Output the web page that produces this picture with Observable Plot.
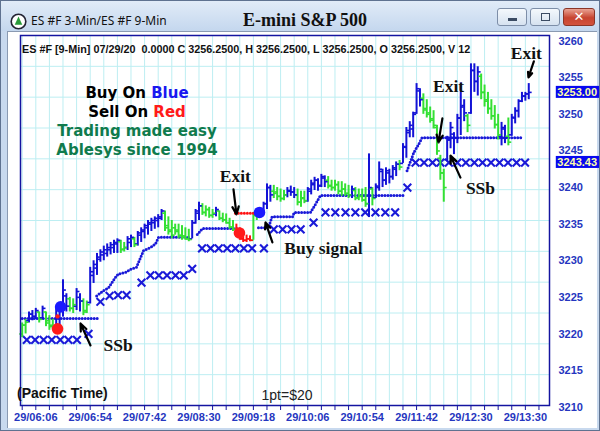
<!DOCTYPE html>
<html><head><meta charset="utf-8">
<script src="https://cdn.jsdelivr.net/npm/d3@7"></script>
<script src="https://cdn.jsdelivr.net/npm/@observablehq/plot@0.6"></script>
<style>
html,body{margin:0;padding:0;background:#fff;}
#win{position:relative;width:600px;height:431px;overflow:hidden;background:#c8d9ee;font-family:"Liberation Sans",Arial,sans-serif;}
#edge{position:absolute;left:0;top:0;width:600px;height:431px;box-sizing:border-box;border:1px solid #5f7290;pointer-events:none;z-index:9;}
#titlebar{position:absolute;left:0;top:0;width:600px;height:31px;background:linear-gradient(#e2ecf8,#c4d7ee);}
#client{position:absolute;left:7px;top:31px;width:590px;height:397px;background:#fff;border-left:1px solid #8a9ab2;border-top:1px solid #8a9ab2;box-sizing:border-box;}
#chart{position:absolute;left:0;top:0;z-index:2;}
.abs{position:absolute;white-space:nowrap;z-index:3;}
#ttlL{left:31px;top:13px;font:12px "Noto Sans","DejaVu Sans",sans-serif;line-height:16px;color:#111;}
#ttl{left:205px;width:200px;top:9px;text-align:center;font:bold 18px "Liberation Serif","Times New Roman",serif;line-height:22px;color:#111;}
.btn{position:absolute;top:8px;height:18px;border:1px solid #7d8ea8;border-radius:3px;background:linear-gradient(#f4f8fc,#d6e2f0);box-sizing:border-box;z-index:3;}
#bmin{left:497px;width:30px;}
#bmax{left:530px;width:30px;}
#bcls{left:563px;width:32px;background:linear-gradient(#e9a393,#c74430 55%,#d2523c);border-color:#8b3527;}
#hdr{left:22px;top:42.5px;font:bold 10.8px "Liberation Sans",Arial,sans-serif;line-height:13px;color:#111;}
#legend{left:37px;width:200px;top:83.7px;text-align:center;font:bold 15px "DejaVu Sans",Verdana,sans-serif;line-height:19.1px;color:#000;}
#pac{left:17px;top:384.5px;font:bold 14px "Liberation Sans",Arial,sans-serif;line-height:17px;color:#111;}
#onept{left:237px;width:100px;top:386.5px;text-align:center;font:14px "Liberation Sans",Arial,sans-serif;line-height:17px;color:#222;}
</style></head>
<body>
<div id="win">
  <div id="titlebar"></div>
  <div id="client"></div>
  <div id="chart"></div>
  <svg class="abs" style="left:10px;top:13px" width="17" height="17" viewBox="0 0 17 17">
    <circle cx="8.5" cy="8.5" r="7.3" fill="#fff" stroke="#223" stroke-width="1.6"/>
    <path d="M8.5 3.6 L12.3 11.8 L4.7 11.8 Z" fill="#2a9a3a"/>
  </svg>
  <div class="abs" id="ttlL">ES #F 3-Min/ES #F 9-Min</div>
  <div class="abs" id="ttl">E-mini S&amp;P 500</div>
  <div class="btn" id="bmin"><div style="position:absolute;left:10px;top:9px;width:9px;height:3px;background:#3b4b63"></div></div>
  <div class="btn" id="bmax"><div style="position:absolute;left:10px;top:4px;width:9px;height:8px;border:1.5px solid #3b4b63;box-sizing:border-box"></div></div>
  <div class="btn" id="bcls"><div style="position:absolute;left:0;width:30px;top:0;line-height:16px;text-align:center;color:#fff;font:bold 13px 'DejaVu Sans',sans-serif">✕</div></div>
  <div class="abs" id="hdr">ES #F [9-Min] 07/29/20&nbsp; 0.0000 C 3256.2500, H 3256.2500, L 3256.2500, O 3256.2500, V 12</div>
  <div class="abs" id="legend">Buy On <span style="color:#1818f0">Blue</span><br>Sell On <span style="color:#ff1a1a">Red</span><br><span style="color:#0f7b4d">Trading made easy</span><br><span style="color:#0f7b4d">Ablesys since 1994</span></div>
  <div class="abs" id="pac">(Pacific Time)</div>
  <div class="abs" id="onept">1pt=$20</div>
  <div id="edge"></div>
</div>
<script>
// ---- data (bar index = 3-min bar) ----
const barHigh = [3221.5,3222.0,3223.0,3223.2,3223.5,3223.0,3223.8,3223.0,3222.5,3222.0,
3223.5,3224.0,3227.4,3225.5,3225.0,3224.8,3226.2,3225.5,3224.8,3224.5,
3229.1,3230.0,3231.0,3231.5,3232.0,3232.3,3232.5,3232.8,3233.0,3232.8,
3232.5,3233.3,3233.5,3233.2,3234.0,3234.5,3235.0,3235.5,3235.8,3236.0,
3236.3,3237.0,3236.8,3236.0,3235.5,3235.0,3235.0,3234.8,3234.5,3234.3,
3235.5,3237.0,3238.0,3237.8,3237.5,3237.3,3237.0,3237.3,3236.8,3236.5,
3236.4,3235.8,3235.5,3235.0,3234.5,3234.0,3233.5,3233.4,3236.6,3237.0,
3237.0,3238.0,3240.5,3240.3,3240.3,3240.0,3239.8,3239.6,3240.0,3240.2,
3240.0,3239.8,3239.5,3239.5,3240.0,3241.0,3241.4,3241.2,3241.8,3241.6,
3241.5,3241.0,3241.0,3240.8,3240.8,3240.5,3240.3,3240.2,3240.0,3239.8,
3239.8,3240.0,3244.6,3240.0,3240.5,3243.5,3242.5,3242.7,3242.5,3243.0,
3243.5,3243.7,3246.0,3248.2,3249.0,3250.3,3254.2,3253.5,3252.8,3252.0,
3251.0,3250.5,3248.5,3244.4,3242.5,3247.0,3248.9,3247.5,3250.0,3254.3,
3252.0,3250.0,3256.9,3256.9,3256.5,3255.5,3254.0,3253.0,3252.0,3251.2,
3250.0,3248.9,3248.5,3249.5,3250.0,3250.9,3252.0,3253.0,3253.0,3254.2];
const barLow = [3219.5,3220.0,3221.5,3221.8,3222.0,3221.5,3222.0,3221.0,3220.5,3220.5,
3220.8,3221.0,3222.3,3223.0,3223.0,3222.8,3223.2,3223.0,3222.5,3222.8,
3224.1,3226.9,3228.0,3229.8,3230.0,3230.5,3230.8,3231.0,3231.0,3231.0,
3231.2,3231.4,3231.8,3231.8,3232.0,3232.5,3233.0,3233.5,3234.0,3234.3,
3234.5,3235.5,3234.0,3233.5,3233.0,3233.5,3233.0,3232.8,3232.8,3232.6,
3233.0,3235.0,3235.5,3236.2,3236.0,3235.8,3235.8,3236.0,3235.5,3235.2,
3235.0,3234.3,3234.0,3233.2,3232.8,3232.5,3232.5,3232.6,3232.8,3235.5,
3236.0,3236.5,3237.0,3238.0,3238.5,3238.2,3238.0,3238.2,3238.6,3238.8,
3238.5,3237.5,3237.3,3237.8,3238.0,3239.0,3239.6,3239.5,3240.0,3240.0,
3239.8,3239.5,3239.5,3239.0,3238.8,3238.8,3238.5,3238.5,3238.2,3238.2,
3238.0,3237.3,3235.9,3237.5,3238.5,3239.5,3240.0,3240.3,3240.5,3241.0,
3241.5,3242.3,3243.3,3244.0,3246.8,3246.8,3250.0,3251.0,3250.0,3249.5,
3248.8,3248.0,3244.4,3241.0,3238.0,3243.5,3245.3,3244.5,3246.0,3247.1,
3249.0,3247.5,3250.0,3253.0,3252.5,3252.0,3251.0,3250.0,3249.2,3248.0,
3246.5,3245.7,3246.0,3245.7,3247.0,3248.7,3249.5,3251.6,3251.8,3252.0];
const barOpen = [3220.0,3221.2,3221.8,3222.7,3222.4,3223.0,3222.2,3223.0,3221.8,3221.2,
3221.0,3222.5,3223.5,3225.2,3224.8,3223.5,3223.8,3225.0,3224.5,3223.2,
3224.3,3228.0,3229.0,3230.2,3230.8,3231.0,3231.5,3231.8,3232.3,3232.6,
3231.6,3231.8,3232.5,3233.0,3232.3,3233.5,3234.0,3234.5,3235.0,3235.2,
3235.5,3235.8,3236.5,3234.8,3234.2,3234.5,3234.2,3233.5,3233.4,3233.0,
3233.0,3235.2,3236.5,3237.5,3236.6,3237.0,3236.2,3236.4,3236.8,3235.8,
3235.6,3235.2,3234.6,3234.3,3233.6,3233.0,3232.8,3233.0,3232.8,3236.2,
3236.5,3236.8,3237.8,3240.0,3239.5,3239.4,3238.8,3238.5,3239.0,3239.5,
3239.4,3239.0,3238.0,3238.6,3238.2,3239.5,3240.4,3241.0,3240.3,3241.3,
3241.0,3240.3,3240.0,3240.4,3239.5,3239.8,3239.2,3239.0,3239.6,3238.6,
3238.8,3238.3,3237.8,3239.8,3238.6,3240.0,3242.2,3241.0,3242.0,3241.5,
3242.5,3243.2,3243.3,3245.5,3247.5,3248.0,3250.2,3253.2,3252.2,3250.8,
3250.2,3249.4,3248.2,3244.0,3242.0,3243.8,3246.5,3247.3,3246.8,3249.5,
3251.2,3249.8,3250.2,3256.0,3254.5,3255.2,3253.0,3252.0,3250.8,3249.8,
3248.6,3247.0,3248.0,3247.0,3247.2,3249.5,3250.5,3251.8,3252.5,3252.8];
const barClose = [3221.2,3221.6,3222.7,3222.4,3223.2,3222.0,3223.5,3221.5,3221.0,3220.8,
3223.2,3223.8,3226.0,3223.8,3223.5,3224.0,3225.8,3224.5,3223.0,3224.0,
3228.5,3229.5,3230.5,3231.2,3231.5,3231.8,3232.2,3232.5,3232.8,3231.5,
3231.8,3233.0,3233.2,3232.2,3233.8,3234.2,3234.8,3235.2,3235.5,3235.8,
3236.0,3236.8,3234.5,3234.0,3233.5,3234.0,3233.4,3233.2,3233.0,3232.9,
3235.2,3236.8,3237.5,3236.6,3237.0,3236.2,3236.5,3237.0,3235.8,3235.6,
3235.2,3234.6,3234.3,3233.6,3233.0,3232.8,3233.0,3232.8,3236.2,3236.6,
3236.8,3237.8,3240.0,3239.0,3239.2,3238.8,3238.5,3239.0,3239.6,3239.4,
3239.0,3238.0,3238.5,3238.2,3239.8,3240.6,3241.0,3240.2,3241.5,3240.8,
3240.2,3240.0,3240.4,3239.5,3239.8,3239.2,3239.0,3239.8,3238.6,3238.8,
3238.3,3237.8,3240.0,3238.5,3240.2,3242.5,3241.0,3242.3,3241.5,3242.7,
3243.2,3242.8,3245.6,3247.8,3248.5,3250.0,3253.5,3252.0,3250.6,3250.0,
3249.2,3248.5,3245.0,3242.0,3240.0,3246.5,3248.2,3246.8,3249.5,3251.0,
3250.2,3248.5,3256.0,3254.5,3255.8,3253.0,3251.8,3250.8,3249.8,3248.6,
3247.2,3248.2,3246.8,3246.2,3249.6,3250.5,3251.8,3252.5,3252.8,3253.0];
const barColor = ["g","g","b","b","b","g","b","g","g","g",
"b","b","b","b","g","g","b","b","g","g",
"b","b","b","b","b","b","b","b","b","g",
"g","b","b","g","b","b","b","b","b","b",
"b","b","g","g","g","g","g","g","g","g",
"b","b","b","g","g","g","g","b","g","g",
"g","g","g","r","r","r","r","r","g","g",
"b","b","b","b","g","g","g","g","b","b",
"b","g","g","g","b","b","b","b","b","b",
"g","g","g","g","g","g","g","b","g","g",
"g","g","b","g","b","b","b","b","b","b",
"b","g","b","b","b","b","b","b","g","g",
"g","g","g","g","g","b","b","b","b","b",
"b","g","b","b","b","g","g","g","g","g",
"g","b","b","g","b","b","b","b","b","b"];

// trailing-stop dotted segments: [bar index, price]
const stopA = [[0,3222.1],[22.5,3222.1]];
const stopB = [[21.9,3225.2],[23.9,3225.9],[25.4,3226.3],[27.4,3227.7],[28.3,3228.2],[30.4,3228.4],[32.1,3228.9],[33.6,3229.1],[35.7,3231.4],[37.7,3231.8],[39.2,3232.3],[40.1,3233.2],[49.5,3233.2]];
const stopC = [[51.5,3233.6],[53,3234.4],[63.5,3234.4]];
const stopD = [[69.5,3234.5],[72.4,3234.5],[73.5,3236.0],[79.5,3236.0],[80,3236.6],[84.8,3236.6],[86,3237.5],[87.7,3238.9],[112,3238.9]];
const stopE = [[113.2,3242.3],[115.2,3244.8],[116.5,3245.8],[117.6,3246.8],[147.1,3246.8]];
const stopRed = [[62.7,3236.5],[68.6,3236.5]];

// X markers: bar index and price
const crossX = [1.35,3.8,6.3,8.7,11.2,13.6,16.1,19.5,
  23.0,25.7,28.2,30.7,35.1,
  37.7,40.2,42.6,45.1,47.5,50.0,
  52.9,55.4,57.8,60.3,62.7,65.2,67.6,71.1,
  74.0,76.6,79.2,81.9,85.7,
  89.2,92.1,95.1,98.0,100.9,103.9,106.8,109.7,113.3,
  115.7,118.2,120.7,123.0,125.5,128.0,130.5,133.0,135.4,137.9,140.4,142.9,145.4,147.9];
const crossY = [3219.2,3219.2,3219.2,3219.2,3219.2,3219.2,3219.2,3220.0,
  3224.4,3225.2,3225.3,3225.3,3227.0,
  3228.0,3228.0,3228.0,3228.0,3228.0,3228.9,
  3231.7,3231.7,3231.7,3231.7,3231.7,3231.7,3231.7,3231.7,
  3234.3,3234.3,3234.3,3234.3,3235.2,
  3236.6,3236.6,3236.6,3236.6,3236.6,3236.6,3236.6,3236.6,3240.0,
  3243.4,3243.4,3243.4,3243.4,3243.4,3243.4,3243.4,3243.4,3243.4,3243.4,3243.4,3243.4,3243.4,3243.4];

// signal dots
const sellX = [10.4,63.9], sellY = [3220.7,3233.8];
const buyX = [11.3,69.8], buyY = [3223.7,3236.6];
const sellSmallX = [10.4], sellSmallY = [3222.4];

// annotations
const noteText = ["Exit","Buy signal","SSb","Exit","SSb","Exit"];
const noteX = [62.7,88.6,28.2,125.4,134.8,148.3];
const noteY = [3241.5,3231.7,3218.4,3253.8,3239.9,3258.3];
const arrowX1 = [62.15,73.6,20.09,123.6,128.91,150.5];
const arrowY1 = [3239.74,3232.5,3218.43,3249.44,3241.36,3257.23];
const arrowX2 = [63.03,71.56,17.15,122.44,125.97,148.9];
const arrowY2 = [3236.33,3235.23,3221.43,3246.16,3244.36,3255.04];

// axes
const yTicks = [3210,3215,3220,3225,3230,3235,3240,3245,3250,3255,3260];
const xLabelIdx = [4,20,36,52,68,84,100,116,132,148];
const xLabels = ["29/06:06","29/06:54","29/07:42","29/08:30","29/09:18","29/10:06","29/10:54","29/11:42","29/12:30","29/13:30"];
const lastPrices = [3253.00, 3243.43];

// ---- build ----
const COL = {b:"#1212d6", g:"#33e033", r:"#ff1111"};
const bars = barHigh.map((h,i)=>({i, hi:h, lo:barLow[i], op:barOpen[i], cl:barClose[i], c:COL[barColor[i]]}));
const segs = [];
[stopA,stopB,stopC,stopD,stopE].forEach((s,k)=>s.forEach(([x,y])=>segs.push({x,y,k})));
const redSeg = stopRed.map(([x,y])=>({x,y}));
const crosses = crossX.map((x,i)=>({x,y:crossY[i]}));
const sells = sellX.map((x,i)=>({x,y:sellY[i]}));
const buys = buyX.map((x,i)=>({x,y:buyY[i]}));
const sellSmall = sellSmallX.map((x,i)=>({x,y:sellSmallY[i]}));
const notes = noteText.map((t,i)=>({t,x:noteX[i],y:noteY[i]}));
const arrows = arrowX1.map((x,i)=>({x1:x,y1:arrowY1[i],x2:arrowX2[i],y2:arrowY2[i]}));

const yDom = [3210.23, 3260.77];
const hGrid = d3.range(1,12).map(k => yDom[0] + k*(yDom[1]-yDom[0])/12);
const AXC = "#2536c0";

const chart = Plot.plot({
  width: 600, height: 431,
  marginLeft: 20, marginRight: 51, marginTop: 35, marginBottom: 26,
  style: {background:"transparent", overflow:"visible", fontFamily:"Liberation Sans, Arial, sans-serif", fontSize:"11px"},
  x: {domain: [-0.5, 155.1]},
  y: {domain: yDom},
  marks: [
    Plot.gridX(d3.range(0,155,4), {stroke:"#bdeef2", strokeOpacity:1}),
    Plot.gridY(hGrid, {stroke:"#bdeef2", strokeOpacity:1}),
    Plot.line(segs, {x:"x", y:"y", z:"k", stroke:"#1a1ad8", strokeWidth:3, strokeDasharray:"0,3", strokeLinecap:"round"}),
    Plot.dot(crosses, {x:"x", y:"y", symbol:"times", r:3.6, stroke:"#1a1ad8", strokeWidth:2.1}),
    Plot.ruleX(bars, {x:"i", y1:"lo", y2:"hi", stroke:"c", strokeWidth:2}),
    Plot.link(bars, {x1:d=>d.i-0.85, x2:"i", y1:"op", y2:"op", stroke:"c", strokeWidth:1.6}),
    Plot.link(bars, {x1:"i", x2:d=>d.i+0.85, y1:"cl", y2:"cl", stroke:"c", strokeWidth:1.6}),
    Plot.line(redSeg, {x:"x", y:"y", stroke:"#ff1111", strokeWidth:3, strokeDasharray:"0,3", strokeLinecap:"round"}),
    Plot.dot(sells, {x:"x", y:"y", r:5.8, fill:"#ff1a1a"}),
    Plot.dot(sellSmall, {x:"x", y:"y", r:2.2, fill:"#ff1a1a"}),
    Plot.dot(buys, {x:"x", y:"y", r:5.8, fill:"#1a1aff"}),
    Plot.arrow(arrows, {x1:"x1", y1:"y1", x2:"x2", y2:"y2", stroke:"#000", strokeWidth:2.2, headLength:7, headAngle:45}),
    Plot.text(notes, {x:"x", y:"y", text:"t", fontFamily:"Liberation Serif, Times New Roman, serif", fontWeight:"bold", fontSize:17.5, fill:"#111"}),
    Plot.frame({stroke:"#1414a0", strokeWidth:1.5}),
    Plot.axisY(yTicks, {anchor:"right", tickSize:0, tickPadding:9, tickFormat:d=>String(d), color:AXC, fontWeight:"bold", fontSize:11, label:null}),
    Plot.axisX(d3.range(0,155,4), {tickSize:5, tickFormat:()=>"", stroke:"#1414a0", label:null}),
    Plot.axisX(xLabelIdx, {tickSize:0, tickPadding:8, tickFormat:d=>xLabels[xLabelIdx.indexOf(d)], color:AXC, fontWeight:"bold", fontSize:11, label:null}),
    Plot.rect(lastPrices, {x1:()=>157.1, x2:()=>172, y1:d=>d-0.82, y2:d=>d+0.82, fill:"#0808f0"}),
    Plot.text(lastPrices, {x:()=>157.4, y:d=>d, text:d=>d.toFixed(2), textAnchor:"start", fill:"#ffffa8", fontWeight:"bold", fontSize:11})
  ]
});
document.getElementById("chart").appendChild(chart);
</script>
</body></html>
